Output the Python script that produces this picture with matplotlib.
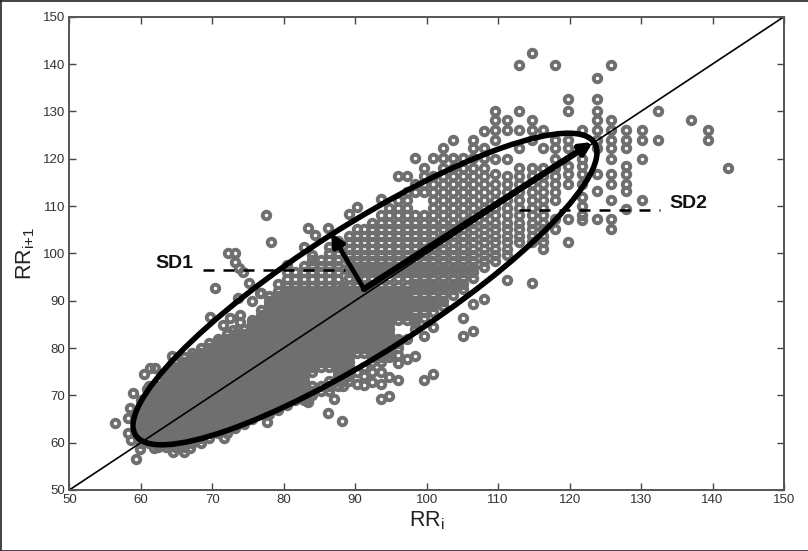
import matplotlib
matplotlib.use("Agg")
import matplotlib.pyplot as plt
from matplotlib.patches import Ellipse

plt.rcParams['font.family'] = ['Liberation Sans', 'DejaVu Sans']
plt.rcParams['mathtext.fontset'] = 'custom'
plt.rcParams['mathtext.rm'] = 'Liberation Sans'

dense_x = [60.0, 61.2, 62.4, 63.6, 64.8, 66.0, 67.2, 68.4, 69.6, 70.8, 72.0, 73.2,
           74.4, 75.6, 76.8, 78.0, 79.2, 80.4, 81.6, 82.8, 84.0, 85.2, 86.4, 87.6]
dense_y = [
    [60, 61, 62, 63, 64, 65, 66, 67, 68, 69],
    [60, 61, 62, 63, 64, 65, 66, 67, 68, 69, 70, 71, 72],
    [59, 60, 61, 62, 63, 64, 65, 66, 67, 68, 69, 70, 71, 72, 73],
    [59, 60, 61, 62, 63, 64, 65, 66, 67, 68, 69, 70, 71, 72, 73, 74, 75],
    [59, 60, 61, 62, 63, 64, 65, 66, 67, 68, 69, 70, 71, 72, 73, 74, 75, 76, 77],
    [59, 60, 61, 62, 63, 64, 65, 66, 67, 68, 69, 70, 71, 72, 73, 74, 75, 76, 77, 78],
    [60, 61, 62, 63, 64, 65, 66, 67, 68, 69, 70, 71, 72, 73, 74, 75, 76, 77, 78, 79],
    [60, 61, 62, 63, 64, 65, 66, 67, 68, 69, 70, 71, 72, 73, 74, 75, 76, 77, 78, 79, 80],
    [61, 62, 63, 64, 65, 66, 67, 68, 69, 70, 71, 72, 73, 74, 75, 76, 77, 78, 79, 80, 81],
    [62, 63, 64, 65, 66, 67, 68, 69, 70, 71, 72, 73, 74, 75, 76, 77, 78, 79, 80, 81, 82],
    [62, 63, 64, 65, 66, 67, 68, 69, 70, 71, 72, 73, 74, 75, 76, 77, 78, 79, 80, 81, 82, 83],
    [63, 64, 65, 66, 67, 68, 69, 70, 71, 72, 73, 74, 75, 76, 77, 78, 79, 80, 81, 82, 83],
    [64, 65, 66, 67, 68, 69, 70, 71, 72, 73, 74, 75, 76, 77, 78, 79, 80, 81, 82, 83, 84],
    [65, 66, 67, 68, 69, 70, 71, 72, 73, 74, 75, 76, 77, 78, 79, 80, 81, 82, 83, 84, 85, 86, 90],
    [66, 67, 68, 69, 70, 71, 72, 73, 74, 75, 76, 77, 78, 79, 80, 81, 82, 83, 84, 85, 86, 87, 88, 91.6],
    [66, 67, 68, 69, 70, 71, 72, 73, 74, 75, 76, 77, 78, 79, 80, 81, 82, 83, 84, 85, 86, 87, 88, 89, 90, 91],
    [67, 68, 69, 70, 71, 72, 73, 74, 75, 76, 77, 78, 79, 80, 81, 82, 83, 84, 85, 86, 87, 88, 89, 90, 91, 92, 93.6],
    [68, 69, 70, 71, 72, 73, 74, 75, 76, 77, 78, 79, 80, 81, 82, 83, 84, 85, 86, 87, 88, 89, 90, 91, 92, 93.2, 94.6, 96, 97.5],
    [69, 70, 71, 72, 73, 74, 75, 76, 77, 78, 79, 80, 81, 82, 83, 84, 85, 86, 87, 88, 89, 90, 91, 92, 93.2, 94.6, 96],
    [69, 70, 71, 72, 73, 74, 75, 76, 77, 78, 79, 80, 81, 82, 83, 84, 85, 86, 87, 88, 89, 90, 91, 92, 93.2, 94.6, 96, 97.4, 101.3],
    [70, 71, 72, 75, 76, 77, 78, 79, 80, 81, 82, 83, 84, 85, 86, 87, 88, 89, 90, 91, 92, 93.2, 94.6, 96, 97.4, 98.7, 99.7],
    [71, 72, 76, 77, 78, 79, 80, 81, 82, 83, 84, 85, 86, 87, 88, 89, 90, 91, 92, 93.2, 94.6, 96, 97.4, 98.7],
    [71, 72, 73, 76, 77, 78, 79, 80, 81, 82, 83, 84, 85, 86, 87, 88, 89, 90, 91, 92, 93.2, 94.6, 96, 97.4, 98.7, 100, 101.3],
    [72, 73, 74, 75, 76, 77, 78, 79, 80, 81, 82, 83, 84, 85, 86, 87, 88, 89, 90, 91, 92, 93.2, 94.6, 96, 97.4, 98.7, 100, 101.3, 102.6],
]

mid_x = [88.3, 89.1, 90.2, 91.3, 92.4, 93.6, 94.8, 96.0, 97.2]
mid_y = [
    [72, 73, 74, 75, 76, 77, 78, 79, 80, 81, 82, 83, 84, 85, 86, 87, 88, 89, 90, 91, 92, 93],
    [73, 74, 75, 76, 77, 78, 79, 80, 81, 82, 83, 84, 85, 86, 87, 88, 89, 90, 91, 92, 93, 94.8, 96, 97.2, 98.4, 99.6, 100.9, 102.3, 103.7, 108.3],
    [72.3, 75, 79, 80, 81, 82, 83, 84, 85, 86, 87, 88, 89, 90, 91, 92, 93, 94.8, 96, 97.2, 98.4, 99.6, 100.9, 102.3, 103.7, 105.1, 109.8],
    [72.2, 74, 76, 79, 80, 81, 82, 83, 84, 85, 86, 87, 88, 89, 90, 91, 92, 93, 94.8, 96, 97.2, 98.4, 99.6, 100.9, 102.3, 103.7, 105.1],
    [72.8, 75, 77, 78, 79, 80, 81, 82, 83, 84, 85, 86, 87, 88, 89, 90, 91, 92, 93, 94.8, 96, 97.2, 98.4, 99.6, 100.9, 102.3, 103.7, 105.1, 106.5],
    [69.2, 72.5, 75, 77, 78, 79, 80, 81, 82, 83, 84, 85, 86, 87, 88, 89, 90, 91, 92, 93, 94.8, 96, 97.2, 98.4, 99.6, 100.9, 102.3, 103.7, 105.1, 106.5, 108, 111.5],
    [69.9, 73.9, 78, 79, 80, 81, 82, 83, 84, 85, 86, 87, 88, 89, 90, 91, 92, 93, 94.8, 96, 97.2, 98.4, 99.6, 100.9, 102.3, 103.7, 105.1, 106.5, 108, 109.6],
    [73.2, 76.8, 78.5, 80, 81, 82, 86, 87, 88, 89, 90, 91, 92, 93, 94.8, 96, 97.2, 98.4, 99.6, 100.9, 102.3, 103.7, 105.1, 106.5, 108, 109.6, 111.2, 116.4],
    [77.7, 82, 86, 87, 88, 89, 90, 91, 92, 93, 94.8, 96, 97.2, 98.4, 99.6, 100.9, 102.3, 103.7, 105.1, 106.5, 108, 109.6, 111.2, 112.9, 116.4],
]

sparse_x = [98.4, 99.6, 100.9, 102.3, 103.7, 105.1, 106.5, 108.0, 109.6, 111.2,
            112.9, 114.7, 116.3, 118.0, 119.8, 121.8, 123.8, 125.8, 127.9, 130.1, 132.4]
sparse_y = [
    [78.3, 84, 85.2, 86.4, 87.6, 88.8, 90, 91.2, 92.4, 93.6, 94.8, 96, 97.2, 98.4, 99.6, 100.9, 102.3, 103.7, 105.1, 106.5, 108, 112.9, 114.7, 120.1],
    [73.2, 82.5, 86.4, 87.6, 88.8, 90, 91.2, 92.4, 93.6, 94.8, 96, 97.2, 98.4, 99.6, 100.9, 102.3, 103.7, 105.1, 106.5, 108, 112.9, 114.7, 116.4, 118.1],
    [74.5, 84.4, 87.6, 88.8, 90, 91.2, 92.4, 93.6, 94.8, 96, 97.2, 98.4, 99.6, 100.9, 102.3, 103.7, 105.1, 106.5, 108, 109.6, 111.2, 112.9, 114.7, 116.4, 120.1],
    [88.8, 90, 91.2, 92.4, 93.6, 94.8, 96, 97.2, 98.4, 99.6, 100.9, 102.3, 103.7, 105.1, 106.5, 108, 109.6, 111.2, 112.9, 114.7, 116.4, 118.1, 120.1, 122.2],
    [91.2, 92.4, 93.6, 94.8, 96, 97.2, 98.4, 99.6, 100.9, 102.3, 103.7, 105.1, 106.5, 108, 109.6, 111.2, 112.9, 114.7, 116.4, 118.1, 120.1, 124],
    [82.6, 86.4, 92.4, 93.6, 94.8, 96, 97.2, 98.4, 99.6, 100.9, 102.3, 103.7, 105.1, 106.5, 108, 109.6, 111.2, 112.9, 114.7, 116.4, 118.1, 120.1],
    [83.6, 89.3, 94.8, 96, 97.2, 98.4, 99.6, 100.9, 102.3, 103.7, 105.1, 106.5, 108, 109.6, 111.2, 112.9, 114.7, 116.4, 118.1, 120.1, 122.2, 124],
    [90.4, 97.2, 98.4, 99.6, 100.9, 102.3, 103.7, 105.1, 106.5, 108, 109.6, 111.2, 112.9, 114.7, 116.4, 118.1, 120.1, 122.2, 125.8],
    [98.4, 99.6, 100.9, 102.3, 103.7, 105.1, 106.5, 108, 109.6, 111.2, 112.9, 114.7, 116.7, 120, 124, 126, 128.2, 130.1],
    [94.4, 99.6, 100.9, 102.3, 103.7, 105.1, 106.5, 108, 109.6, 111.2, 112.9, 114.7, 116.4, 120, 126, 128.2],
    [102.3, 103.7, 105.1, 106.5, 108, 109.6, 111.2, 112.9, 114.7, 116.4, 118.1, 122.2, 126, 130.1, 139.7],
    [93.7, 102.3, 103.7, 105.1, 106.5, 108, 109.6, 111.2, 112.9, 114.7, 116.4, 118.1, 124, 126, 128.2, 142.3],
    [101, 102.3, 103.7, 105.1, 106.5, 108, 109.6, 111.2, 112.9, 114.7, 116.4, 118.1, 122.2, 126],
    [105.2, 107.3, 111.2, 112.9, 114.7, 116.4, 118.1, 120, 122.2, 124, 139.7],
    [102.4, 107.3, 114.7, 116.7, 118.4, 122.2, 124, 130.1, 132.6],
    [107, 108, 110, 112, 114.7, 116.7, 118.4, 120, 126],
    [107.3, 113.1, 116.7, 122.2, 124, 126, 128.2, 130.1, 132.6, 137],
    [105.2, 107.3, 111.2, 114.7, 116.7, 120, 122.2, 124, 126, 128.2, 139.7],
    [109.4, 113.1, 114.7, 116.7, 118.4, 122.2, 124, 126],
    [111.2, 120, 124, 126],
    [124, 130.1],
]

# points lying away from the columns, mostly round the outside of the cloud
stray_x = [56.4, 58.2, 58.5, 58.9, 58.2, 58.7, 59.4, 59.9, 60.4, 61.3, 62.0, 60.9, 64.4,
           70.4, 69.7, 64.5, 66.1, 66.9, 61.8, 71.5, 72.5, 73.9, 73.9, 75.2, 72.9,
           77.7, 83.4, 71.7, 77.5, 78.2, 83.4, 84.4, 86.2, 72.2, 73.2, 73.2, 73.7,
           74.3, 73.6, 76.7, 83.3, 86.2, 87.0, 88.1, 137.0, 139.4, 139.4, 142.1]
stray_y = [64.1, 65.2, 67.4, 70.4, 62.0, 60.6, 56.5, 58.7, 74.5, 75.8, 75.8, 71.3, 78.3,
           92.7, 86.5, 58.0, 58.0, 58.8, 58.8, 84.9, 86.3, 85.5, 87.0, 93.7, 83.8,
           64.4, 68.6, 61.0, 108.2, 102.5, 105.3, 103.9, 105.3, 100.0, 100.0, 98.2, 96.9,
           96.1, 90.6, 91.6, 68.7, 66.3, 69.2, 64.6, 128.2, 126.0, 124.0, 118.1]

ticks = [50, 60, 70, 80, 90, 100, 110, 120, 130, 140, 150]

fig = plt.figure(figsize=(8.08, 5.51), dpi=100)
ax = fig.add_axes([69.3 / 808, (551 - 490) / 551, (784 - 69.3) / 808, (490 - 16.7) / 551])

rr_i = []
rr_next = []
for cols_x, cols_y in [(dense_x, dense_y), (mid_x, mid_y), (sparse_x, sparse_y)]:
    for x, ys in zip(cols_x, cols_y):
        rr_i += [x] * len(ys)
        rr_next += ys
rr_i += stray_x
rr_next += stray_y

ax.plot(rr_i, rr_next, 'o', mfc='none', mec='#6f6f6f', ms=5.4, mew=2.8, clip_on=False)
ax.plot([50, 150], [50, 150], color='black', lw=1.2)

ax.set_xlim(50, 150)
ax.set_ylim(50, 150)
ax.set_xticks(ticks)
ax.set_yticks(ticks)
ax.tick_params(direction='in', length=5, width=1, color='#444444', labelcolor='#333333',
               labelsize=9.5, top=True, right=True, pad=3)
for s in ax.spines.values():
    s.set_linewidth(1.4)
    s.set_color('#555555')
ax.set_xlabel(r'RR$_{\mathrm{i}}$', fontsize=15.5, color='#222222', labelpad=2)
ax.set_ylabel(r'RR$_{\mathrm{i{+}1}}$', fontsize=15.5, color='#222222', labelpad=4)

# hand drawn overlay, in picture pixels
over = fig.add_axes([0, 0, 1, 1], facecolor='none')
over.set_xlim(0, 808)
over.set_ylim(551, 0)
over.axis('off')
over.add_patch(Ellipse((365, 289), 2 * 272, 2 * 64, angle=-32.5, fill=False, ec='black', lw=4))
over.annotate('', xy=(593, 142), xytext=(364, 289),
              arrowprops=dict(arrowstyle='-|>', color='black', lw=4.6, mutation_scale=16,
                              shrinkA=0, shrinkB=0))
over.annotate('', xy=(331, 233), xytext=(364, 289),
              arrowprops=dict(arrowstyle='-|>', color='black', lw=3.4, mutation_scale=19,
                              shrinkA=0, shrinkB=0))
over.plot([203, 345], [270, 270], color='black', lw=1.8, ls=(0, (4.4, 3.6)))
over.plot([519, 660], [210, 210], color='black', lw=1.8, ls=(0, (4.4, 3.6)))
over.text(155, 263, 'SD1', fontsize=14, fontweight='bold', va='center', color='#111111')
over.text(669, 204, 'SD2', fontsize=14, fontweight='bold', va='center', color='#111111')
# dark edge of the scan
over.plot([0.5, 0.5], [0, 551], color='#222222', lw=1.2)
over.plot([0, 808], [0.5, 0.5], color='#222222', lw=1.2)
over.plot([0, 808], [550.5, 550.5], color='#222222', lw=1.2)

plt.savefig('out.png', dpi=100)
